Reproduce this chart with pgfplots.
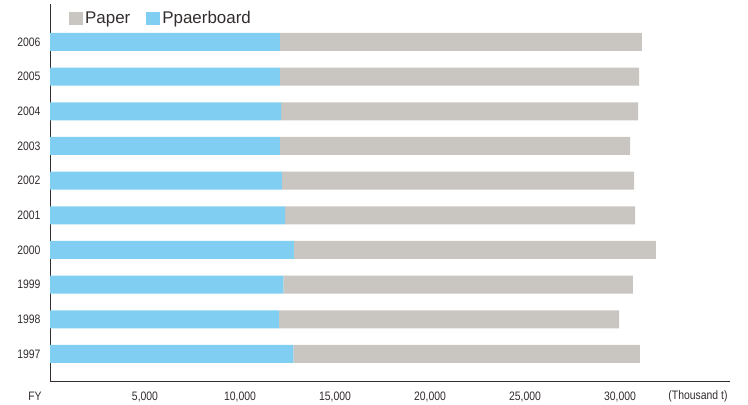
\documentclass[border=0pt]{standalone}
\usepackage{pgfplots}
\pgfplotsset{compat=1.18}
\usepackage{fontspec}
\setmainfont{Liberation Sans}
\newfontfamily\condfont{Liberation Sans}[FakeStretch=0.85]
\definecolor{paperc}{RGB}{201,197,193}
\definecolor{boardc}{RGB}{128,207,243}
\definecolor{axc}{RGB}{51,45,45}
\begin{document}
\begin{tikzpicture}
\useasboundingbox (-50bp,-23.3bp) rectangle (698bp,381.7bp);
\begin{axis}[
  at={(0,0)}, anchor=south west,
  scale only axis, width=680bp, height=377.7bp,
  xbar stacked, bar width=18bp,
  xmin=0, xmax=35789, ymin=-0.799, ymax=10.095,
  axis x line=bottom, axis y line=left,
  axis line style={-, draw=axc, line width=0.9bp},
  xtick={5000,10000,15000,20000,25000,30000},
  ytick={0,...,9},
  yticklabels={1997,1998,1999,2000,2001,2002,2003,2004,2005,2006},
  major tick length=0pt,
  /pgf/number format/assume math mode=true,
  /pgf/number format/1000 sep={,},
  scaled x ticks=false,
  tick label style={font=\condfont\fontsize{12.3}{14}\selectfont, text=axc},
  yticklabel style={xshift=-6bp},
  xticklabel style={yshift=-6.5bp},
  legend columns=2,
  legend style={at={(axis description cs:0.0279,0.9815)}, anchor=north west,
    draw=none, fill=none, inner sep=0pt, font=\fontsize{17}{19}\selectfont, text=axc,
    /tikz/every even column/.append style={column sep=14bp},
    nodes={inner xsep=2bp, inner ysep=0pt}},
  legend image code/.code={\fill[#1] (0bp,-6.5bp) rectangle (14bp,6.5bp);},
  clip=false,
]
\addlegendimage{fill=paperc, draw=none}
\addlegendentry{Paper}
\addlegendimage{fill=boardc, draw=none}
\addlegendentry{Ppaerboard}
\addplot[fill=boardc, draw=none, forget plot] coordinates {
 (12810,0) (12050,1) (12280,2) (12840,3) (12380,4) (12210,5) (12100,6) (12160,7) (12100,8) (12100,9)};
\addplot[fill=paperc, draw=none, forget plot] coordinates {
 (18240,0) (17900,1) (18400,2) (19050,3) (18410,4) (18530,5) (18430,6) (18790,7) (18900,8) (19050,9)};
\node[font=\condfont\fontsize{12.3}{14}\selectfont, text=axc] at ([xshift=-15bp, yshift=-15bp]rel axis cs:0,0) {FY};
\node[font=\condfont\fontsize{12.3}{14}\selectfont, text=axc, anchor=east] at ([xshift=1bp, yshift=-15bp]rel axis cs:1,0) {(Thousand t)};
\end{axis}
\end{tikzpicture}
\end{document}
